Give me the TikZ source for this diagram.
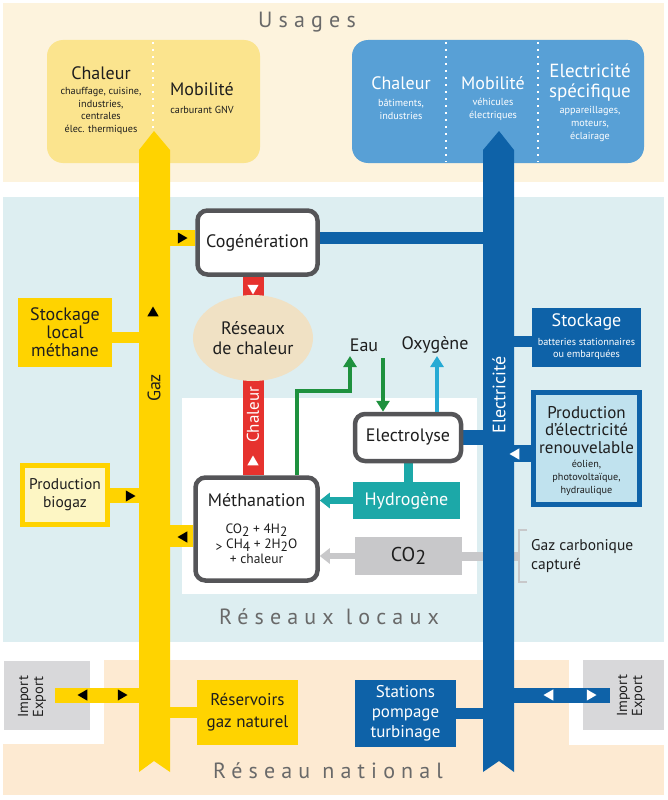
\documentclass[tikz,border=0pt]{standalone}
\usepackage{fontspec}
\setmainfont{PT Sans}
\usetikzlibrary{shapes.geometric,arrows.meta}

\definecolor{gazjaune}{RGB}{255,211,0}
\definecolor{elecbleu}{RGB}{14,98,168}
\definecolor{usagejaune}{RGB}{251,228,142}
\definecolor{usagebleu}{RGB}{88,160,214}
\definecolor{creme}{RGB}{253,243,221}
\definecolor{bleuclair}{RGB}{221,238,241}
\definecolor{peche}{RGB}{253,234,210}
\definecolor{rouge}{RGB}{230,50,46}
\definecolor{beige}{RGB}{240,225,196}
\definecolor{vert}{RGB}{30,145,62}
\definecolor{oxybleu}{RGB}{38,170,212}
\definecolor{turquoise}{RGB}{28,168,168}
\definecolor{grisco}{RGB}{200,200,202}
\definecolor{grisbord}{RGB}{85,85,88}
\definecolor{gristitre}{RGB}{105,105,105}
\definecolor{pale}{RGB}{253,246,196}
\definecolor{prodbleu}{RGB}{192,226,238}
\definecolor{grisie}{RGB}{216,216,218}
\definecolor{encre}{RGB}{30,30,30}

\newcommand{\bas}[1]{\raisebox{-0.35ex}{#1}}

\pgfdeclarelayer{fond}
\pgfdeclarelayer{dessous}
\pgfsetlayers{fond,dessous,main}

\tikzset{
  txt/.style={inner sep=0pt, align=center, text=encre},
  titre/.style={txt, text=gristitre, font=\fontsize{22}{24}\selectfont\addfontfeature{LetterSpace=28}},
  big/.style={txt, font=\fontsize{18}{20}\selectfont},
  petit/.style={txt, font=\fontsize{10.2}{12.8}\selectfont},
  usage/.style={rounded corners=16pt, inner sep=0pt},
  proc/.style={draw=grisbord, line width=4.5pt, fill=white, rounded corners=10pt, inner sep=0pt},
  tri/.style={regular polygon, regular polygon sides=3, inner sep=0pt, minimum size=13pt},
  points/.style={white, line width=2pt, dash pattern=on 2pt off 5pt}
}

\begin{document}
\begin{tikzpicture}[x=1pt,y=-1pt]
\useasboundingbox (0,0) rectangle (668,800);

% bandes de fond
\begin{pgfonlayer}{fond}
\fill[creme] (3,3) rectangle (664,182);
\fill[bleuclair] (3,197) rectangle (664,642);
\fill[peche] (3,660) rectangle (664,795);
\fill[white] (0,660) rectangle (104,744);
\fill[white] (569,660) rectangle (668,745);
\fill[white] (182,398) rectangle (477,594);
\node[usage, fill=usagejaune, minimum width=213pt, minimum height=123pt] (usegaz) at (153.5,101.5) {};
\node[usage, fill=usagebleu, minimum width=292pt, minimum height=123pt] (useelec) at (498,101.5) {};
\draw[points] (153,42) -- (153,132);
\draw[points] (446,42) -- (446,162);
\draw[points] (538,42) -- (538,162);
\node[fill=grisie, minimum width=86pt, minimum height=69pt] (impg) at (47,695.5) {};
\node[fill=grisie, minimum width=81pt, minimum height=70pt] (impd) at (623.5,695) {};
\end{pgfonlayer}

% tuyaux
\fill[gazjaune] (139,150) -- (154,131) -- (170,150) -- (170,772) -- (154,761) -- (139,772) -- cycle;
\fill[elecbleu] (483,150) -- (499,131) -- (514,150) -- (514,772) -- (499,761) -- (483,772) -- cycle;
\coordinate (gazpipe) at (154,400);
\coordinate (elecpipe) at (499,400);

% usages
\node[big] (chalg) at (101,73) {Chaleur};
\node[petit] (chalgsub) at (101,111) {chauffage, cuisine,\\industries,\\centrales\\élec. thermiques};
\node[big] (mobg) at (202,89) {Mobilité};
\node[petit] (mobgsub) at (202,110) {carburant GNV};
\node[big, text=white] (chale) at (401,83) {Chaleur};
\node[petit, text=white] (chalesub) at (401,109) {bâtiments,\\industries};
\node[big, text=white] (mobe) at (493,83) {Mobilité};
\node[petit, text=white] (mobesub) at (493,109) {véhicules\\électriques};
\node[txt, text=white, font=\fontsize{19}{20}\selectfont] (spec) at (590,83) {Electricité\\spécifique};
\node[petit, text=white] (specsub) at (590,124) {appareillages,\\moteurs,\\éclairage};

% titres
\node[titre] (usages) at (307,22) {Usages};
\node[titre] (locaux) at (329,617) {Réseaux locaux};
\node[titre] (national) at (328,771) {Réseau national};

% procedes
\node[proc, minimum width=120pt, minimum height=64pt, big] (cogen) at (257.5,242.5) {Cogénération};
\node[ellipse, fill=beige, minimum width=120pt, minimum height=86pt, big, font=\fontsize{18}{20}\selectfont] (reseau) at (253,338) {Réseaux\\de chaleur};
\node[proc, minimum width=122pt, minimum height=103pt] (meth) at (256.5,529) {};
\node[big] (methtxt) at (256.5,500) {Méthanation};
\node[txt, font=\fontsize{13.5}{15}\selectfont] (formule) at (256.5,544) {CO\bas{2} + 4H\bas{2}\\\bas{>} CH\bas{4} + 2H\bas{2}O\\+ chaleur};
\node[proc, minimum width=106pt, minimum height=47pt, big] (elyse) at (408,437.5) {Electrolyse};
\node[fill=turquoise, minimum width=107pt, minimum height=37pt, big, text=white] (hydro) at (406.5,500.5) {Hydrogène};
\node[fill=grisco, minimum width=107pt, minimum height=38pt, txt, font=\fontsize{20}{22}\selectfont] (cotwo) at (408.5,556) {CO\bas{2}};
\node[big] (eau) at (364,345) {Eau};
\node[big] (oxy) at (435,345) {Oxygène};
\coordinate (wturn) at (297,391);
\coordinate (eauout) at (350,356);
\coordinate (eauin) at (383,358);
\coordinate (oxout) at (437,356);

% cote gaz
\node[fill=gazjaune, minimum width=94pt, minimum height=69pt, txt, font=\fontsize{18}{18}\selectfont] (stockloc) at (65,332.5) {Stockage\\local\\méthane};
\node[fill=pale, draw=gazjaune, line width=5pt, minimum width=85pt, minimum height=59pt, txt, font=\fontsize{15.5}{18}\selectfont] (biogaz) at (65,495) {Production\\biogaz};
\node[fill=gazjaune, minimum width=101pt, minimum height=65pt, txt, font=\fontsize{17}{22}\selectfont] (reserv) at (247.5,712.5) {Réservoirs\\gaz naturel};
\node[txt, rotate=90, font=\fontsize{14.5}{15}\selectfont] (impgtxt) at (32,697) {Import\\Export};

% cote electricite
\node[fill=elecbleu, minimum width=109pt, minimum height=59pt] (stockel) at (586.5,337.5) {};
\node[big, text=white] (stockeltxt) at (586.5,322) {Stockage};
\node[petit, text=white] (stockelsub) at (586.5,349) {batteries stationnaires\\ou embarquées};
\node[fill=prodbleu, draw=elecbleu, line width=5pt, minimum width=106pt, minimum height=112pt] (prodel) at (586.5,448.5) {};
\node[txt, font=\fontsize{17}{17.5}\selectfont] (prodeltxt) at (586.5,430) {Production\\d'électricité\\renouvelable};
\node[petit] (prodelsub) at (586.5,478) {éolien,\\photovoltaïque,\\hydraulique};
\node[fill=elecbleu, minimum width=101pt, minimum height=67pt, txt, text=white, font=\fontsize{17}{20}\selectfont] (stations) at (405.5,713.5) {Stations\\pompage\\turbinage};
\node[txt, rotate=90, font=\fontsize{14.5}{15}\selectfont] (impdtxt) at (631,696) {Import\\Export};
\node[txt, anchor=west, align=left, font=\fontsize{15.5}{19}\selectfont] (gazcap) at (531,556) {Gaz carbonique\\capturé};
\coordinate (brk) at (519,556);

% liaisons
\begin{pgfonlayer}{dessous}
\draw[gazjaune, line width=16pt] ([yshift=5pt]cogen.west) -- ([yshift=5pt]cogen.west -| gazpipe);
\draw[gazjaune, line width=11pt] ([yshift=-5pt]stockloc.east) -- ([yshift=-5pt]stockloc.east -| gazpipe);
\draw[gazjaune, line width=15pt] (biogaz.east) -- (biogaz.east -| gazpipe);
\draw[gazjaune, line width=22pt] ([yshift=-7pt]meth.west) -- ([yshift=-7pt]meth.west -| gazpipe);
\draw[gazjaune, line width=11pt] (reserv.west) -- (reserv.west -| gazpipe);
\draw[gazjaune, line width=15pt] ([xshift=8pt]impg.center) -- (impg.center -| gazpipe);
\draw[elecbleu, line width=12pt] ([yshift=5pt]cogen.east) -- ([yshift=5pt]cogen.east -| elecpipe);
\draw[elecbleu, line width=15pt] (elyse.east) -- (elyse.east -| elecpipe);
\draw[elecbleu, line width=11pt] ([yshift=-4pt]stockel.west) -- ([yshift=-4pt]stockel.west -| elecpipe);
\draw[elecbleu, line width=17pt] ([yshift=-5pt]prodel.west) -- ([yshift=-5pt]prodel.west -| elecpipe);
\draw[elecbleu, line width=11pt] (stations.east) -- (stations.east -| elecpipe);
\draw[elecbleu, line width=15pt] ([xshift=-14pt]impd.center) -- (impd.center -| elecpipe);
\draw[rouge, line width=21pt] (cogen.south -| reseau) -- (meth.north -| reseau);
\draw[turquoise, line width=9pt] (elyse.south) -- (elyse.south |- hydro.north);
\draw[grisco, line width=9pt] (cotwo.east) -- (brk);
\end{pgfonlayer}
\draw[grisco, line width=1.5pt] (brk) ++(8,-26) -- ++(-8,0) -- ++(0,52) -- ++(8,0);

% fleches
\draw[turquoise, line width=6.5pt, -{Triangle[length=10pt,width=15pt]}] (hydro.west) -- (hydro.west -| meth.east);
\draw[grisco, line width=6.5pt, -{Triangle[length=10pt,width=15pt]}] (cotwo.west) -- (cotwo.west -| meth.east);
\draw[vert, line width=4.5pt, -{Triangle[length=11pt,width=13pt]}] (meth.north -| wturn) -- (wturn) -| (eauout);
\draw[vert, line width=4.5pt, -{Triangle[length=11pt,width=13pt]}] (eauin) -- (eauin |- elyse.north);
\draw[oxybleu, line width=4.5pt, -{Triangle[length=11pt,width=13pt]}] (oxout |- elyse.north) -- (oxout);

% textes sur les tuyaux
\node[txt, rotate=90, font=\fontsize{18}{20}\selectfont] (gaztxt) at (154,388) {Gaz};
\node[txt, rotate=90, text=white, font=\fontsize{18}{20}\selectfont] (electxt) at (499,395) {Electricité};
\node[txt, rotate=90, text=white, font=\fontsize{17}{19}\selectfont] (chaltxt) at (253,415) {Chaleur};

% triangles de sens
\node[tri, fill=black, rotate=-90] (tcogen) at (181,238) {};
\node[tri, fill=black] (tstock) at (153,313) {};
\node[tri, fill=black, rotate=-90] (tbio) at (129,496) {};
\node[tri, fill=black, rotate=90] (tmeth) at (184,537) {};
\node[tri, fill=black, rotate=90] (timpg1) at (84,695) {};
\node[tri, fill=black, rotate=-90] (timpg2) at (121,695) {};
\node[tri, fill=white, rotate=180] (tchal1) at (253,288) {};
\node[tri, fill=white] (tchal2) at (253,462) {};
\node[tri, fill=white, rotate=90] (tprod) at (516,454) {};
\node[tri, fill=white, rotate=90] (timpd1) at (550,695) {};
\node[tri, fill=white, rotate=-90] (timpd2) at (590,695) {};

\end{tikzpicture}
\end{document}
